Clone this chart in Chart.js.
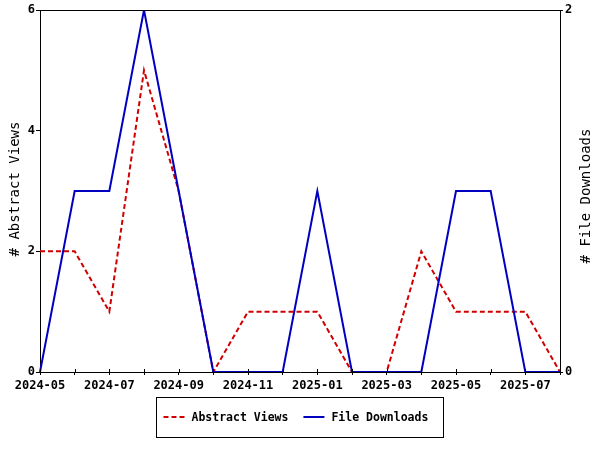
<!DOCTYPE html>
<html><head><meta charset="utf-8">
<script src="https://cdn.jsdelivr.net/npm/chart.js@4/dist/chart.umd.min.js"></script>
<style>html,body{margin:0;padding:0;background:#fff}</style>
</head><body>
<canvas id="c" width="600" height="450" style="width:600px;height:450px;display:block"></canvas>
<script>
const months = ['2024-05','2024-06','2024-07','2024-08','2024-09','2024-10','2024-11','2024-12',
                '2025-01','2025-02','2025-03','2025-04','2025-05','2025-06','2025-07','2025-08'];
const abstractViews = [2,2,1,5,3,0,1,1,1,0,0,2,1,1,1,0];
const fileDownloads = [0,1,1,2,1,0,0,0,1,0,0,0,1,1,0,0];
const leftTicks = [0,2,4,6];
const rightTicks = [0,2];
const leftTitle = '# Abstract Views';
const rightTitle = '# File Downloads';
const seriesNames = ['Abstract Views','File Downloads'];

const RED = '#d00000', BLUE = '#0000c0';
const MONO = '"DejaVu Sans Mono", "Liberation Mono", monospace';

const extras = {
  id: 'extras',
  afterDatasetsDraw(chart) {
    const ctx = chart.ctx, a = chart.chartArea;
    ctx.save();
    ctx.strokeStyle = '#000'; ctx.lineWidth = 1;
    ctx.beginPath(); ctx.moveTo(a.left, a.top + 0.5); ctx.lineTo(a.right, a.top + 0.5); ctx.stroke();
    const xs = chart.scales.x;
    ctx.beginPath();
    for (let i = 0; i < xs.ticks.length; i++) {
      const px = Math.round(xs.getPixelForTick(i)) + 0.5;
      ctx.moveTo(px, a.bottom - 3); ctx.lineTo(px, a.bottom);
    }
    ctx.stroke();
    ctx.restore();
  },
  afterDraw(chart) {
    const ctx = chart.ctx;
    ctx.save();
    ctx.fillStyle = '#000';
    ctx.font = '14px ' + MONO;
    ctx.textAlign = 'center'; ctx.textBaseline = 'middle';
    ctx.save(); ctx.translate(15, 189); ctx.rotate(-Math.PI/2); ctx.fillText(leftTitle, 0, 0); ctx.restore();
    ctx.save(); ctx.translate(586, 196); ctx.rotate(-Math.PI/2); ctx.fillText(rightTitle, 0, 0); ctx.restore();
    ctx.font = 'bold 11.5px ' + MONO;
    const ds = chart.data.datasets;
    const w1 = ctx.measureText(ds[0].label).width, w2 = ctx.measureText(ds[1].label).width;
    const padL = 7, lineW = 21, gapT = 7, gapItem = 15, padR = 15;
    const boxW = Math.round(padL + lineW + gapT + w1 + gapItem + lineW + gapT + w2 + padR);
    const boxX = Math.round(300 - boxW/2) - 0.5, boxY = 397.5, boxH = 40;
    ctx.strokeStyle = '#000'; ctx.lineWidth = 1;
    ctx.strokeRect(boxX, boxY, boxW, boxH);
    const cy = boxY + boxH/2 - 0.5;
    let x = boxX + padL;
    [0,1].forEach(i => {
      const d = ds[i];
      ctx.strokeStyle = d.borderColor; ctx.lineWidth = d.borderWidth;
      ctx.setLineDash(d.borderDash || []);
      ctx.beginPath(); ctx.moveTo(x, cy); ctx.lineTo(x + lineW, cy); ctx.stroke();
      ctx.setLineDash([]);
      x += lineW + gapT;
      ctx.fillStyle = '#000'; ctx.textAlign = 'left';
      ctx.fillText(d.label, x, cy + 1);
      x += (i === 0 ? w1 : w2) + gapItem;
    });
    ctx.restore();
  }
};

new Chart(document.getElementById('c'), {
  type: 'line',
  data: {
    labels: months,
    datasets: [
      { label: seriesNames[0], data: abstractViews, yAxisID: 'y', borderColor: RED, backgroundColor: RED,
        borderWidth: 2, borderDash: [5,3], pointRadius: 0, tension: 0, fill: false, order: 1 },
      { label: seriesNames[1], data: fileDownloads, yAxisID: 'y2', borderColor: BLUE, backgroundColor: BLUE,
        borderWidth: 2, pointRadius: 0, tension: 0, fill: false, order: 0 }
    ]
  },
  options: {
    responsive: false,
    animation: false,
    layout: { padding: { top: 10, left: 0, right: 0, bottom: 56 } },
    plugins: { legend: { display: false }, tooltip: { enabled: false } },
    scales: {
      x: {
        type: 'category', offset: false,
        border: { display: true, color: '#000', width: 1 },
        grid: { display: true, drawOnChartArea: false, drawTicks: true, tickLength: 3, color: '#000' },
        ticks: {
          autoSkip: false, maxRotation: 0, minRotation: 0, padding: 4, color: '#000',
          font: { family: MONO, size: 12, weight: 'bold' },
          callback: (v, i) => (i % 2 === 0 ? months[i] : '')
        },
        afterFit: s => { s.height = 22; }
      },
      y: {
        position: 'left', min: 0, max: 6,
        border: { display: true, color: '#000', width: 1 },
        grid: { display: true, drawOnChartArea: false, drawTicks: true, tickLength: 4, color: '#000' },
        afterBuildTicks: s => { s.ticks = leftTicks.map(v => ({ value: v })); },
        ticks: { padding: 1, color: '#000', font: { family: MONO, size: 12, weight: 'bold' } },
        afterFit: s => { s.width = 40; }
      },
      y2: {
        position: 'right', min: 0, max: 2,
        border: { display: true, color: '#000', width: 1 },
        grid: { display: true, drawOnChartArea: false, drawTicks: true, tickLength: 3, color: '#000' },
        afterBuildTicks: s => { s.ticks = rightTicks.map(v => ({ value: v })); },
        ticks: { padding: 2, color: '#000', font: { family: MONO, size: 12, weight: 'bold' } },
        afterFit: s => { s.width = 40; }
      }
    }
  },
  plugins: [extras]
});
</script>
</body></html>
